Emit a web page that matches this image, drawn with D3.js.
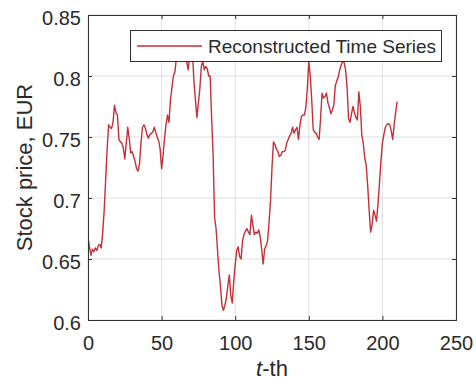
<!DOCTYPE html>
<html><head><meta charset="utf-8">
<script src="https://cdn.jsdelivr.net/npm/d3@7"></script>
<style>body{margin:0;background:#fff;} svg{display:block;font-family:"Liberation Sans",Arial,sans-serif;}</style>
</head><body><svg id="c" width="476" height="385"></svg>
<script>
const xTicks = [0, 50, 100, 150, 200, 250];
const yTicks = [0.6, 0.65, 0.7, 0.75, 0.8, 0.85];
const seriesName = "Reconstructed Time Series";
const prices = [
0.668,0.660,0.653,0.658,0.656,0.659,0.657,0.661,0.662,0.659,
0.672,0.690,0.715,0.740,0.760,0.758,0.757,0.762,0.776,0.770,
0.768,0.748,0.746,0.745,0.741,0.732,0.745,0.758,0.749,0.737,
0.738,0.734,0.730,0.724,0.722,0.728,0.745,0.758,0.760,0.757,
0.752,0.749,0.752,0.753,0.754,0.758,0.754,0.750,0.747,0.740,
0.724,0.735,0.749,0.760,0.768,0.762,0.780,0.790,0.800,0.803,
0.814,0.822,0.826,0.820,0.828,0.824,0.818,0.812,0.805,0.815,
0.822,0.818,0.795,0.780,0.766,0.778,0.790,0.808,0.812,0.805,
0.808,0.806,0.800,0.800,0.765,0.735,0.684,0.675,0.657,0.640,
0.628,0.612,0.608,0.612,0.618,0.628,0.637,0.620,0.614,0.632,
0.645,0.657,0.660,0.652,0.650,0.665,0.670,0.673,0.675,0.672,
0.670,0.686,0.678,0.670,0.672,0.671,0.674,0.668,0.658,0.646,
0.658,0.661,0.665,0.680,0.698,0.725,0.746,0.744,0.740,0.738,
0.734,0.735,0.738,0.738,0.739,0.745,0.748,0.751,0.753,0.758,
0.753,0.756,0.758,0.748,0.760,0.767,0.768,0.768,0.774,0.790,
0.812,0.800,0.780,0.756,0.754,0.753,0.750,0.748,0.765,0.786,
0.782,0.783,0.786,0.778,0.774,0.769,0.772,0.776,0.792,0.796,
0.799,0.805,0.809,0.812,0.811,0.805,0.791,0.765,0.762,0.769,
0.775,0.770,0.766,0.764,0.787,0.775,0.752,0.745,0.733,0.727,
0.710,0.690,0.672,0.678,0.690,0.686,0.681,0.695,0.712,0.730,
0.745,0.752,0.758,0.760,0.761,0.760,0.755,0.748,0.760,0.770,
0.779];

const W = 476, H = 385;
const m = {l: 88, r: 20, t: 15, b: 65};
const svg = d3.select("#c");
const x = d3.scaleLinear().domain([0, 250]).range([m.l, W - m.r]);
const y = d3.scaleLinear().domain([0.6, 0.85]).range([H - m.b, m.t]);
const axisCol = "#303030", textCol = "#2a2a2a", lineCol = "#c42f38";

// grid
svg.append("g").selectAll("line").data(xTicks).join("line")
  .attr("x1", d => x(d)).attr("x2", d => x(d)).attr("y1", y(0.6)).attr("y2", y(0.85))
  .attr("stroke", "#dfdfdf").attr("stroke-width", 1);
svg.append("g").selectAll("line").data(yTicks).join("line")
  .attr("x1", x(0)).attr("x2", x(250)).attr("y1", d => y(d)).attr("y2", d => y(d))
  .attr("stroke", "#dfdfdf").attr("stroke-width", 1);

// clip
svg.append("clipPath").attr("id", "clip").append("rect")
  .attr("x", x(0)).attr("y", y(0.85)).attr("width", x(250) - x(0)).attr("height", y(0.6) - y(0.85));

const line = d3.line().x((d, i) => x(i)).y(d => y(d));
svg.append("path").datum(prices).attr("d", line)
  .attr("fill", "none").attr("stroke", lineCol).attr("stroke-width", 1.4)
  .attr("stroke-linejoin", "round").attr("clip-path", "url(#clip)");

// axes
const xAxis = svg.append("g").attr("transform", `translate(0,${y(0.6)})`)
  .call(d3.axisBottom(x).tickValues(xTicks).tickSize(-4).tickPadding(16));
const xTop = svg.append("g").attr("transform", `translate(0,${y(0.85)})`)
  .call(d3.axisTop(x).tickValues(xTicks).tickSize(-4).tickFormat(""));
const yAxis = svg.append("g").attr("transform", `translate(${x(0)},0)`)
  .call(d3.axisLeft(y).tickValues(yTicks).tickSize(-4).tickPadding(7).tickFormat(d => +d.toFixed(2)));
const yRight = svg.append("g").attr("transform", `translate(${x(250)},0)`)
  .call(d3.axisRight(y).tickValues(yTicks).tickSize(-4).tickFormat(""));
[xAxis, xTop, yAxis, yRight].forEach(g => {
  g.select(".domain").attr("stroke", axisCol).attr("stroke-width", 1);
  g.selectAll(".tick line").attr("stroke", axisCol);
  g.selectAll("text").attr("fill", textCol).style("font-size", "20px").style("font-family", "'Liberation Sans',Arial,sans-serif");
});
yAxis.selectAll("text").attr("dy", "0.45em");

// legend
const lg = svg.append("g");
lg.append("rect").attr("x", 130.5).attr("y", 30.5).attr("width", 311).attr("height", 31)
  .attr("fill", "#fff").attr("stroke", axisCol).attr("stroke-width", 1);
lg.append("line").attr("x1", 137).attr("x2", 202).attr("y1", 46).attr("y2", 46)
  .attr("stroke", lineCol).attr("stroke-width", 1.4);
lg.append("text").attr("x", 208).attr("y", 52.5).text(seriesName)
  .attr("fill", textCol).style("font-size", "19px");

// labels
const xl = svg.append("text").attr("x", (x(0) + x(250)) / 2).attr("y", 376)
  .attr("text-anchor", "middle").attr("fill", textCol).style("font-size", "22px");
xl.append("tspan").attr("font-style", "italic").text("t");
xl.append("tspan").text("-th");
svg.append("text").attr("transform", `translate(32,${(y(0.6) + y(0.85)) / 2}) rotate(-90)`)
  .attr("text-anchor", "middle").attr("fill", textCol).style("font-size", "22px")
  .text("Stock price, EUR");
</script></body></html>
